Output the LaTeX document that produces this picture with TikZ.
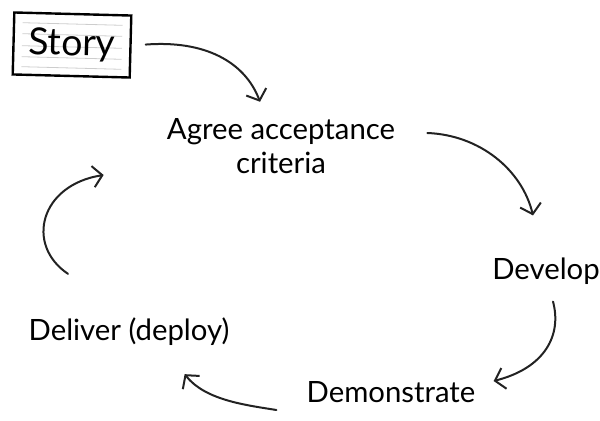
\documentclass[tikz,border=0pt]{standalone}
\usepackage{fontspec}
\setmainfont{Lato}
\usetikzlibrary{arrows.meta,calc}

\tikzset{
  flow/.style={line width=1.5pt, draw={rgb,255:red,34;green,34;blue,34}, line cap=round,
    -{Straight Barb[length=7pt,width=16pt,line width=1.5pt]}},
  stage/.style={inner sep=0pt, align=center, font=\fontsize{22}{26}\selectfont}
}

\begin{document}
\begin{tikzpicture}[x=0.75pt,y=0.75pt,yscale=-1,xscale=1]
\useasboundingbox (0,0) rectangle (600,421);

%Shape: Card [id:story]
\begin{scope}[shift={(72,45)}, rotate=1.5]
\foreach \ly in {-21,-10,2,13,23}
  \draw [color={rgb,255:red,205;green,205;blue,205}, line width=0.6pt] (-50,\ly) -- (50,\ly) ;
\end{scope}
\node (story) at (72,45) [draw, line width=1.8pt, minimum width=87.75pt, minimum height=46.5pt, inner sep=0pt,
  rotate=-1.5, font=\fontsize{28}{32}\selectfont] {Story};

% Text Node
\node (agree) at (281,146) [stage] {Agree acceptance\\criteria};
% Text Node
\node (develop) at (546,271) [stage] {Develop};
% Text Node
\node (demo) at (391,392) [stage] {Demonstrate};
% Text Node
\node (deliver) at (129,332) [stage] {Deliver (deploy)};

%Curve Lines
\draw [flow] ($(story.east)+(14,-2)$) .. controls (205,40) and (245,62) .. ($(agree.north)+(-21,-16)$) ;
%Curve Lines
\draw [flow] ($(agree.east)+(32,-13)$) .. controls (480,135) and (522,170) .. ($(develop.north)+(-13,-42)$) ;
%Curve Lines
\draw [flow] ($(develop.south)+(7,17)$) .. controls (562,335) and (545,368) .. ($(demo.east)+(18,-11)$) ;
%Curve Lines
\draw [flow] ($(demo.west)+(-30,18)$) .. controls (245,405) and (205,400) .. ($(deliver.south east)+(-45,28)$) ;
%Curve Lines
\draw [flow] ($(deliver.north)+(-61,-44)$) .. controls (25,245) and (40,185) .. ($(agree.west)+(-63,29)$) ;

\end{tikzpicture}
\end{document}
